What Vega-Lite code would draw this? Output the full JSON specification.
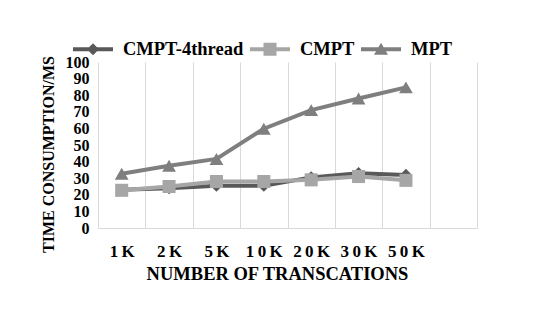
{
  "$schema": "https://vega.github.io/schema/vega-lite/v6.json",
  "width": 379,
  "height": 166,
  "autosize": {"type": "none"},
  "padding": {"left": 98, "top": 62, "right": 68, "bottom": 83},
  "background": "white",
  "config": {
    "view": {"stroke": null},
    "font": "Liberation Serif"
  },
  "data": {
    "values": [
      {"n": "1K", "series": "CMPT-4thread", "ms": 23},
      {"n": "2K", "series": "CMPT-4thread", "ms": 24},
      {"n": "5K", "series": "CMPT-4thread", "ms": 25.5},
      {"n": "10K", "series": "CMPT-4thread", "ms": 25.5},
      {"n": "20K", "series": "CMPT-4thread", "ms": 30.5},
      {"n": "30K", "series": "CMPT-4thread", "ms": 33},
      {"n": "50K", "series": "CMPT-4thread", "ms": 32},
      {"n": "1K", "series": "CMPT", "ms": 22.7},
      {"n": "2K", "series": "CMPT", "ms": 25},
      {"n": "5K", "series": "CMPT", "ms": 28},
      {"n": "10K", "series": "CMPT", "ms": 28},
      {"n": "20K", "series": "CMPT", "ms": 29},
      {"n": "30K", "series": "CMPT", "ms": 31},
      {"n": "50K", "series": "CMPT", "ms": 28.7},
      {"n": "1K", "series": "MPT", "ms": 32.7},
      {"n": "2K", "series": "MPT", "ms": 37.5},
      {"n": "5K", "series": "MPT", "ms": 41.6},
      {"n": "10K", "series": "MPT", "ms": 59.8},
      {"n": "20K", "series": "MPT", "ms": 71},
      {"n": "30K", "series": "MPT", "ms": 78},
      {"n": "50K", "series": "MPT", "ms": 84.7}
    ]
  },
  "encoding": {
    "x": {
      "field": "n",
      "type": "nominal",
      "sort": null,
      "scale": {
        "type": "band",
        "paddingInner": 0,
        "paddingOuter": 0,
        "domain": ["1K", "2K", "5K", "10K", "20K", "30K", "50K", " "]
      },
      "axis": {
        "title": "NUMBER OF TRANSCATIONS",
        "titleFont": "Liberation Serif",
        "titleFontSize": 18.5,
        "titleFontWeight": "bold",
        "titleColor": "black",
        "titleX": 179,
        "titleY": 45,
        "titleBaseline": "middle",
        "titleAlign": "center",
        "labelAngle": 0,
        "labelFont": "Liberation Serif",
        "labelFontSize": 17,
        "labelFontWeight": "bold",
        "labelColor": "black",
        "labelPadding": 15,
        "labelOverlap": false,
        "labelExpr": "join(split(datum.label, ''), '\u2009')",
        "ticks": false,
        "tickSize": 0,
        "tickBand": "extent",
        "grid": true,
        "gridColor": "#d9d9d9",
        "gridWidth": 1,
        "domainColor": "#d9d9d9",
        "domainWidth": 1
      }
    },
    "y": {
      "field": "ms",
      "type": "quantitative",
      "scale": {"domain": [0, 100], "nice": false, "zero": true},
      "axis": {
        "values": [0, 10, 20, 30, 40, 50, 60, 70, 80, 90, 100],
        "labelOverlap": false,
        "title": "TIME CONSUMPTION/MS",
        "titleFont": "Liberation Serif",
        "titleFontSize": 16,
        "titleFontWeight": "bold",
        "titleColor": "black",
        "titleX": -50,
        "titleY": 92,
        "titleAngle": -90,
        "titleBaseline": "middle",
        "titleAlign": "center",
        "labelFont": "Liberation Serif",
        "labelFontSize": 16,
        "labelFontWeight": "bold",
        "labelColor": "black",
        "labelPadding": 9,
        "ticks": false,
        "tickSize": 0,
        "grid": false,
        "domain": false
      }
    },
    "color": {
      "field": "series",
      "type": "nominal",
      "sort": ["CMPT-4thread", "CMPT", "MPT"],
      "scale": {
        "domain": ["CMPT-4thread", "CMPT", "MPT"],
        "range": ["#595959", "#a6a6a6", "#7f7f7f"]
      },
      "legend": {
        "orient": "none",
        "legendX": -15,
        "legendY": -23,
        "direction": "horizontal",
        "columns": 3,
        "title": null,
        "padding": 0,
        "columnPadding": 6,
        "labelOffset": 20,
        "symbolSize": 400,
        "symbolStrokeWidth": 0,
        "labelFont": "Liberation Serif",
        "labelFontSize": 18.5,
        "labelFontWeight": "bold",
        "labelColor": "black",
        "labelLimit": 0,
        "encode": {
          "symbols": {
            "update": {
              "fill": {"signal": "scale('color', datum.value)"},
              "fillOpacity": {"value": 1},
              "strokeWidth": {"value": 0},
              "size": {"value": 400},
              "shape": {"signal": "datum.value === 'CMPT-4thread' ? 'M-2,-0.2H2V0.2H-2Z M0,-0.6L0.6,0L0,0.6L-0.6,0Z' : datum.value === 'CMPT' ? 'M-2,-0.2H2V0.2H-2Z M-0.65,-0.65H0.65V0.65H-0.65Z' : 'M-2,-0.2H2V0.2H-2Z M0,-0.65L0.7,0.55H-0.7Z'"}
            }
          }
        }
      }
    }
  },
  "layer": [
    {
      "mark": {"type": "line", "strokeWidth": 4}
    },
    {
      "transform": [{"filter": "datum.series === 'CMPT-4thread'"}],
      "mark": {"type": "point", "filled": true, "opacity": 1, "shape": "diamond", "size": 150}
    },
    {
      "transform": [{"filter": "datum.series === 'CMPT'"}],
      "mark": {"type": "point", "filled": true, "opacity": 1, "shape": "square", "size": 170}
    },
    {
      "transform": [{"filter": "datum.series === 'MPT'"}],
      "mark": {"type": "point", "filled": true, "opacity": 1, "shape": "triangle-up", "size": 190}
    }
  ]
}
